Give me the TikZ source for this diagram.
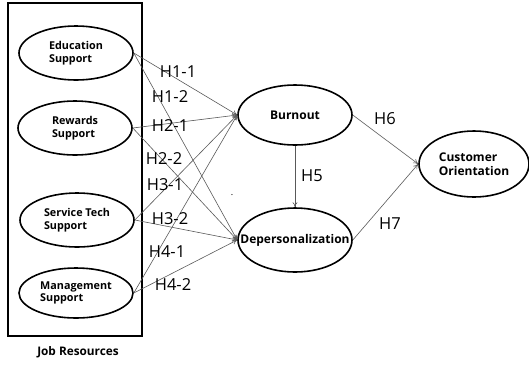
\documentclass[tikz,border=0pt]{standalone}
\usepackage{fontspec}
\setmainfont{Open Sans}
\usepackage{tikz}
\usetikzlibrary{arrows.meta, positioning, shapes.geometric}

\begin{document}
\begin{tikzpicture}[x=1pt,y=-1pt,
  factor/.style={ellipse, draw=black, line width=1.6pt, minimum width=114pt, minimum height=54pt,
    inner sep=0pt, align=left, font=\fontsize{10.8}{12.5}\selectfont\bfseries},
  outcome/.style={factor, minimum height=60pt, font=\fontsize{12}{14}\selectfont\bfseries},
  hlab/.style={font=\fontsize{16.5}{18}\selectfont, inner sep=0pt},
  path/.style={draw=black!65, line width=0.6pt, -{To[length=5pt,width=5pt]}}]
  \useasboundingbox (0,0) rectangle (529,365);
  % job resources box
  \draw[line width=1.2pt] (8,3) rectangle (142,336);
  \node[font=\fontsize{11.8}{14}\selectfont\bfseries] (jobres) at (78,352) {Job Resources};
  % left factors
  \node[factor] (edu) at (76,53) {Education\\Support};
  \node[factor] (rew) at (75,128) {Rewards\\Support};
  \node[factor] (tech) at (77,220) {Service Tech\\Support};
  \node[factor, minimum height=50pt] (mgmt) at (76,293) {Management\\Support};
  % mediators and outcome
  \node[outcome] (burn) at (295,115) {Burnout};
  \node[outcome, minimum height=64pt] (depers) at (295,240) {\makebox[60pt]{Depersonalization}};
  \node[outcome, minimum width=110pt, minimum height=66pt] (cust) at (474,164) {Customer\\Orientation};
  % paths H1 - H4
  \foreach \src in {edu,rew,tech,mgmt}{
    \draw[path] (\src.east) -- (burn.west);
    \draw[path] (\src.east) -- (depers.west);
  }
  % H5 - H7
  \draw[path] (burn.south) -- (depers.north);
  \draw[path] (burn.east) -- (cust.west);
  \draw[path] (depers.east) -- (cust.west);
  % labels
  \node[hlab] (h11) at (178,72) {H1-1};
  \node[hlab] (h12) at (170,97) {H1-2};
  \node[hlab] (h21) at (170,126) {H2-1};
  \node[hlab] (h22) at (164,159) {H2-2};
  \node[hlab] (h31) at (165,185) {H3-1};
  \node[hlab] (h32) at (170,219) {H3-2};
  \node[hlab] (h41) at (167,252) {H4-1};
  \node[hlab] (h42) at (173,285) {H4-2};
  \node[hlab] (h5) at (312,176) {H5};
  \node[hlab] (h6) at (385,119) {H6};
  \node[hlab] (h7) at (390,224) {H7};
  \node[inner sep=0pt, font=\small] (dot) at (232,195) {.};
\end{tikzpicture}
\end{document}
